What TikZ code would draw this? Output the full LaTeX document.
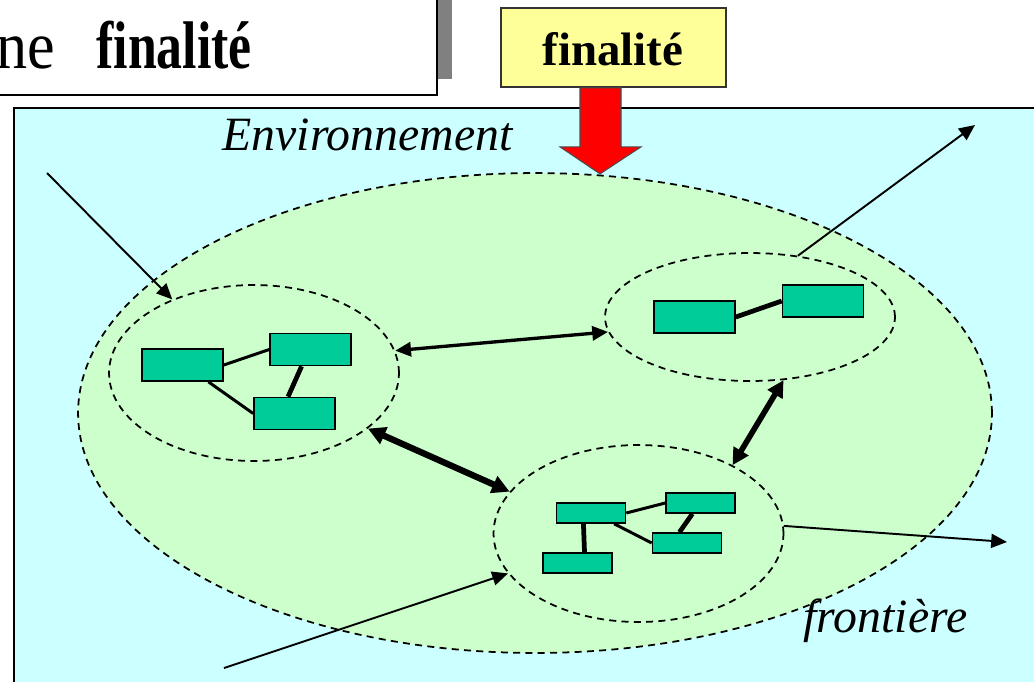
\documentclass[tikz,border=0pt]{standalone}
\usepackage{fontspec}
\usepackage{graphicx}
\setmainfont{Liberation Serif}
\usetikzlibrary{shapes.geometric,arrows.meta,calc}
\definecolor{bgcyan}{HTML}{CCFFFF}
\definecolor{bggreen}{HTML}{CCFFCC}
\definecolor{cellteal}{HTML}{00CC99}
\definecolor{finyellow}{HTML}{FFFF99}
\definecolor{shadowgrey}{HTML}{808080}
\begin{document}
\begin{tikzpicture}[x=0.02cm,y=-0.02cm,
  cell/.style={draw=black, line width=0.9pt, fill=cellteal, inner sep=0pt, minimum width=1.62cm, minimum height=0.64cm},
  cellS/.style={cell, minimum width=1.38cm, minimum height=0.4cm},
  bound/.style={draw=black, line width=1pt, dash pattern=on 4pt off 3pt, ellipse, inner sep=0pt},
  link/.style={line width=1.7pt},
  linkthick/.style={line width=2.7pt},
  thinarr/.style={line width=1.1pt, -{Triangle[length=9pt,width=8pt]}},
  dblA/.style={line width=1.9pt, {Triangle[length=9pt,width=8pt]}-{Triangle[length=9pt,width=8pt]}},
  dblB/.style={line width=3.6pt, {Triangle[length=10pt,width=10pt]}-{Triangle[length=10pt,width=10pt]}},
  dblC/.style={line width=3.2pt, {Triangle[length=9.5pt,width=9.5pt]}-{Triangle[length=9.5pt,width=9.5pt]}},
]
\useasboundingbox (0,0) rectangle (1034,681);
\fill[white] (0,0) rectangle (1034,681);
% title
\fill[shadowgrey] (438,0) rectangle (452,79);
\draw[fill=white, line width=1pt] (-10,-10) rectangle (437,95);
\node[anchor=base west, inner sep=0pt, font=\fontsize{29.5}{32}\selectfont] (t1) at (-4,68) {\scalebox{1.2}[1.3]{ne}};
\node[anchor=base west, inner sep=0pt, font=\fontsize{29.5}{32}\selectfont\bfseries] (t2) at (96,68) {\scalebox{1}[1.3]{finalité}};
% environment
\draw[fill=bgcyan, line width=0.9pt] (14,108) rectangle (1045,695);
\node[bound, fill=bggreen, minimum width=18.28cm, minimum height=9.6cm] (sys) at (535,413) {};
\node[bound, minimum width=5.8cm, minimum height=3.52cm] (e1) at (254,373) {};
\node[bound, minimum width=5.8cm, minimum height=2.56cm] (e2) at (750,317) {};
\node[bound, minimum width=5.8cm, minimum height=3.54cm] (e3) at (638.5,533.5) {};
% cells
\node[cell] (r1) at (182.5,365) {};
\node[cell] (r2) at (310.5,349.5) {};
\node[cell] (r3) at (294.5,413.5) {};
\node[cell] (r4) at (694.5,317) {};
\node[cell] (r5) at (823,301) {};
\node[cellS] (r6) at (591,513) {};
\node[cellS] (r7) at (700.5,503) {};
\node[cellS] (r8) at (687,543) {};
\node[cellS] (r9) at (577.5,563) {};
\draw[link] (r1.east) -- (r2.west);
\draw[link] (r1.-33) -- (r3.west);
\draw[linkthick] (r2.242.7) -- (r3.111.5);
\draw[linkthick] (r4.east) -- (r5.west);
\draw[link] (r6.east) -- (r7.west);
\draw[link] (r6.-25.5) -- (r8.west);
\draw[linkthick] (r7.233) -- (r8.125);
\draw[linkthick] (r6.235) -- (r9.57);
% arrows
\coordinate (a1s) at (47,173);
\coordinate (a5e) at (975,125);
\coordinate (a6e) at (1007,542);
\coordinate (a7s) at (224,668);
\draw[thinarr] (a1s) -- (e1.138.8);
\draw[thinarr] (e2.52.7) -- (a5e);
\draw[thinarr] (e3.3.2) -- (a6e);
\draw[thinarr] (a7s) -- (e3.197.5);
\draw[dblA] (e1.9) -- (e2.186);
\draw[dblB] (e1.-26) -- (e3.162.5);
\draw[dblC] (e2.-62.7) -- (e3.36.9);
% texts
\node[anchor=base, inner sep=0pt, font=\fontsize{27.2}{30}\selectfont\itshape] (env) at (367.5,150) {Environnement};
\node[anchor=base, inner sep=0pt, font=\fontsize{27.2}{30}\selectfont\itshape] (fr) at (885.5,632) {frontière};
% finalite
\node[draw=black!80, fill=finyellow, line width=1pt, minimum width=4.5cm, minimum height=1.58cm, inner sep=0pt] (fin) at (613.5,47.5) {};
\node[anchor=base, inner sep=0pt, font=\fontsize{26.7}{30}\selectfont\bfseries] (fintxt) at (613,65) {finalité};
\coordinate (fs) at (fin.south);
\draw[fill=red, draw=black!70, line width=0.6pt] ($(fs)+(-33.5,0)$) -- ($(fs)+(7.5,0)$) -- ($(fs)+(7.5,59)$) -- ($(fs)+(27.5,59)$) -- ($(fs)+(-13.5,86)$) -- ($(fs)+(-53.5,59)$) -- ($(fs)+(-33.5,59)$) -- cycle;
\end{tikzpicture}
\end{document}
